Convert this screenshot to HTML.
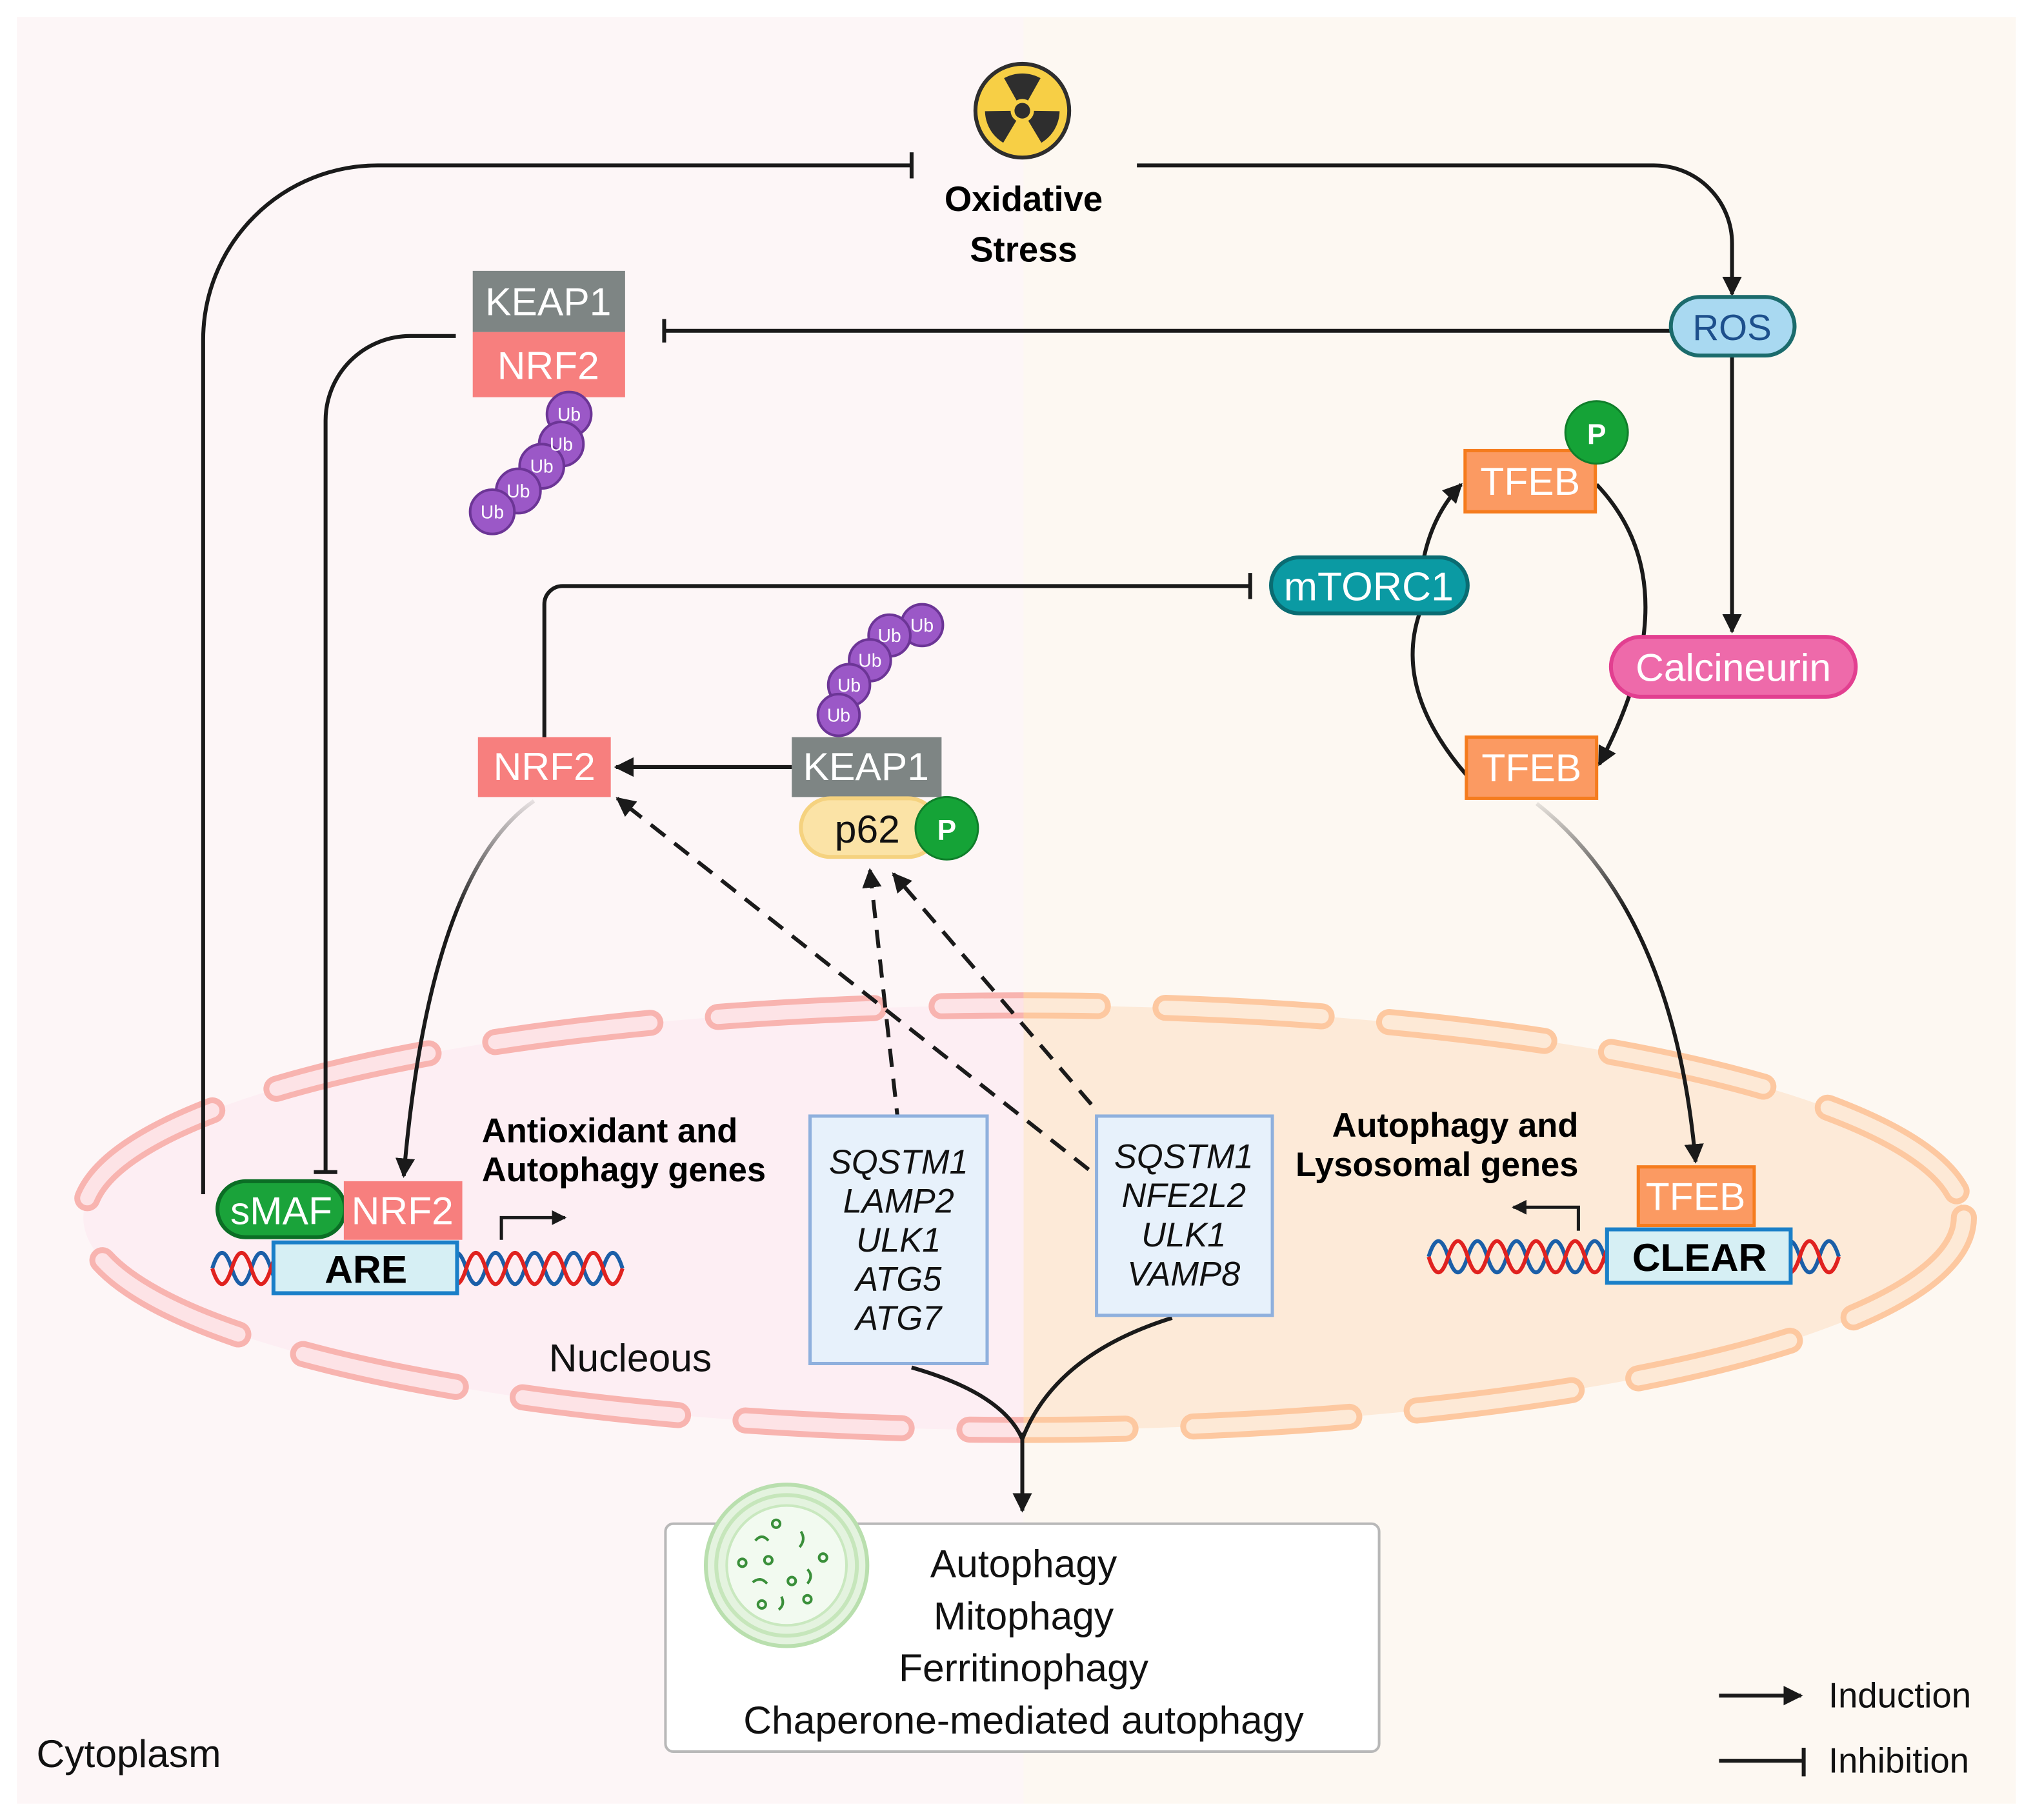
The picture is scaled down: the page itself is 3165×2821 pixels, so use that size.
<!DOCTYPE html>
<html><head><meta charset="utf-8"><style>
html,body{margin:0;padding:0;background:#fff}
svg{display:block}
text{font-family:"Liberation Sans",sans-serif}
</style></head><body>
<svg width="3165" height="2821" viewBox="0 0 1568 1397.5" preserveAspectRatio="none" xmlns="http://www.w3.org/2000/svg">
<defs>
<marker id="ah" viewBox="0 0 10 10" refX="9" refY="5" markerWidth="5" markerHeight="5" orient="auto-start-reverse"><path d="M0,0 L10,5 L0,10 z" fill="#1a1a1a"/></marker>
<marker id="ahs" viewBox="0 0 10 10" refX="9" refY="5" markerWidth="4.5" markerHeight="4.5" orient="auto"><path d="M0,0 L10,5 L0,10 z" fill="#1a1a1a"/></marker>
<clipPath id="cl"><rect x="0" y="0" width="786" height="1400"/></clipPath>
<clipPath id="cr"><rect x="786" y="0" width="800" height="1400"/></clipPath>
<linearGradient id="g1" x1="0" y1="0" x2="0" y2="1"><stop offset="0" stop-color="#1a1a1a" stop-opacity="0.1"/><stop offset="0.3" stop-color="#1a1a1a"/></linearGradient>
</defs>
<rect x="0" y="0" width="1570" height="1400" fill="#fff"/>
<rect x="13" y="13" width="773" height="1372" fill="#fdf6f7"/>
<rect x="786" y="13" width="762" height="1372" fill="#fdf8f2"/>
<g clip-path="url(#cl)">
<ellipse cx="786" cy="935" rx="722" ry="163" fill="#fdeef3"/>
<ellipse cx="786" cy="935" rx="722" ry="163" fill="none" stroke="#f8b4b0" stroke-width="20" stroke-dasharray="120 52" stroke-linecap="round"/>
<ellipse cx="786" cy="935" rx="722" ry="163" fill="none" stroke="#fde3e6" stroke-width="11" stroke-dasharray="120 52" stroke-linecap="round"/>
</g>
<g clip-path="url(#cr)">
<ellipse cx="786" cy="935" rx="722" ry="163" fill="#fdead8"/>
<ellipse cx="786" cy="935" rx="722" ry="163" fill="none" stroke="#fdc8a0" stroke-width="20" stroke-dasharray="120 52" stroke-linecap="round"/>
<ellipse cx="786" cy="935" rx="722" ry="163" fill="none" stroke="#fde9d6" stroke-width="11" stroke-dasharray="120 52" stroke-linecap="round"/>
</g>
<circle cx="785" cy="85" r="36" fill="#f7cf45" stroke="#2e2e2e" stroke-width="3"/>
<g fill="#2e2e2e" transform="translate(785,85)">
<path d="M0,0 L-14,-25 A29,29 0 0 1 14,-25 Z"/>
<path d="M0,0 L-14,-25 A29,29 0 0 1 14,-25 Z" transform="rotate(120)"/>
<path d="M0,0 L-14,-25 A29,29 0 0 1 14,-25 Z" transform="rotate(240)"/>
<circle r="9" fill="#f7cf45"/><circle r="6"/>
</g>
<text x="786" y="162" font-size="27" font-weight="bold" text-anchor="middle">Oxidative</text>
<text x="786" y="201" font-size="27" font-weight="bold" text-anchor="middle">Stress</text>
<g fill="none" stroke="#1a1a1a" stroke-width="3">
<path d="M700,127 H290 A134,134 0 0 0 156,261 V917"/>
<path d="M700,117 V137"/>
<path d="M873,127 H1270 A60,60 0 0 1 1330,187 V226" marker-end="url(#ah)"/>
<path d="M1283,254 H510"/><path d="M510,245 V263"/>
<path d="M350,258 H315 A65,65 0 0 0 250,323 V900"/><path d="M241,900 H259"/>
<path d="M1330,273 V485" marker-end="url(#ah)"/>
<path d="M418,566 V464 A14,14 0 0 1 432,450 H960"/><path d="M960,440 V460"/>
<path d="M1093,430 Q1100,395 1122,372" marker-end="url(#ah)"/>
<path d="M1226,372 Q1300,450 1228,587" marker-end="url(#ah)"/>
<path d="M1126,595 Q1070,530 1090,471"/>
<path d="M608,589 H473" marker-end="url(#ah)"/>
<path d="M410,615 Q330,670 310,903" stroke="url(#g1)" marker-end="url(#ah)"/>
<path d="M1180,617 Q1285,700 1302,892" stroke="url(#g1)" marker-end="url(#ah)"/>
<path d="M385,952 V935 H434" stroke-width="2.5" marker-end="url(#ahs)"/>
<path d="M1212,945 V927 H1162" stroke-width="2.5" marker-end="url(#ahs)"/>
<path d="M700,1050 Q770,1070 785,1105" /><path d="M900,1012 Q810,1040 785,1105"/>
<path d="M785,1100 V1160" marker-end="url(#ah)"/>
<path d="M1320,1302 H1383" marker-end="url(#ah)"/>
<path d="M1320,1352 H1385"/><path d="M1385,1342 V1364"/>
</g>
<g fill="none" stroke="#1a1a1a" stroke-width="3" stroke-dasharray="14 9">
<path d="M836,898 L474,613" marker-end="url(#ah)"/>
<path d="M690,865 L668,668" marker-end="url(#ah)"/>
<path d="M838,848 L686,671" marker-end="url(#ah)"/>
</g>
<rect x="363" y="208" width="117" height="47" fill="#7e8584"/>
<text x="421" y="242" font-size="30" fill="#fff" text-anchor="middle">KEAP1</text>
<rect x="363" y="255" width="117" height="50" fill="#f77f7e"/>
<text x="421" y="291" font-size="30" fill="#fff" text-anchor="middle">NRF2</text>
<g fill="#9b58c7" stroke="#6c3596" stroke-width="2">
<circle cx="437" cy="318" r="17"/><circle cx="431" cy="341" r="17"/><circle cx="416" cy="358" r="17"/><circle cx="398" cy="377" r="17"/><circle cx="378" cy="393" r="17"/>
<circle cx="708" cy="480" r="16"/><circle cx="683" cy="488" r="16"/><circle cx="668" cy="507" r="16"/><circle cx="652" cy="526" r="16"/><circle cx="644" cy="549" r="16"/>
</g>
<g fill="#fff" font-size="14" text-anchor="middle">
<text x="437" y="323">Ub</text><text x="431" y="346">Ub</text><text x="416" y="363">Ub</text><text x="398" y="382">Ub</text><text x="378" y="398">Ub</text>
<text x="708" y="485">Ub</text><text x="683" y="493">Ub</text><text x="668" y="512">Ub</text><text x="652" y="531">Ub</text><text x="644" y="554">Ub</text>
</g>
<rect x="1283" y="228" width="95" height="45" rx="22.5" fill="#a9d9f1" stroke="#1b6b6c" stroke-width="3"/>
<text x="1330" y="261" font-size="28" fill="#1d4f8c" text-anchor="middle">ROS</text>
<rect x="1237" y="489" width="188" height="46" rx="23" fill="#ee6aaa" stroke="#e23f90" stroke-width="3"/>
<text x="1331" y="523" font-size="30" fill="#fff" text-anchor="middle">Calcineurin</text>
<rect x="1125" y="346" width="100" height="47" fill="#fb9a62" stroke="#f57c1e" stroke-width="2.5"/>
<text x="1175" y="380" font-size="30" fill="#fff" text-anchor="middle">TFEB</text>
<circle cx="1226" cy="332" r="24" fill="#15a337" stroke="#0f7e2a" stroke-width="1.5"/>
<text x="1226" y="341" font-size="22" font-weight="bold" fill="#fff" text-anchor="middle">P</text>
<rect x="1126" y="566" width="100" height="47" fill="#fb9a62" stroke="#f57c1e" stroke-width="2.5"/>
<text x="1176" y="600" font-size="30" fill="#fff" text-anchor="middle">TFEB</text>
<rect x="976" y="428" width="151" height="43" rx="21.5" fill="#0b9aa3" stroke="#0a6c72" stroke-width="3"/>
<text x="1051" y="461" font-size="31" fill="#fff" text-anchor="middle">mTORC1</text>
<rect x="367" y="566" width="102" height="46" fill="#f77f7e"/>
<text x="418" y="599" font-size="30" fill="#fff" text-anchor="middle">NRF2</text>
<rect x="608" y="566" width="115" height="46" fill="#7e8584"/>
<text x="665" y="599" font-size="30" fill="#fff" text-anchor="middle">KEAP1</text>
<rect x="615" y="613" width="105" height="45" rx="22.5" fill="#fbe3a6" stroke="#f5d27f" stroke-width="3"/>
<text x="666" y="647" font-size="30" fill="#111" text-anchor="middle">p62</text>
<circle cx="727" cy="636" r="24" fill="#15a337" stroke="#0f7e2a" stroke-width="1.5"/>
<text x="727" y="645" font-size="22" font-weight="bold" fill="#fff" text-anchor="middle">P</text>
<path d="M163,974 q7.5,-24 15,0 t15,0 t15,0 t15,0 t15,0 t15,0 t15,0 t15,0 t15,0 t15,0 t15,0 t15,0 t15,0 t15,0 t15,0 t15,0 t15,0 t15,0 t15,0 t15,0 t15,0" fill="none" stroke="#1b5fa8" stroke-width="3"/>
<path d="M163,974 q7.5,24 15,0 t15,0 t15,0 t15,0 t15,0 t15,0 t15,0 t15,0 t15,0 t15,0 t15,0 t15,0 t15,0 t15,0 t15,0 t15,0 t15,0 t15,0 t15,0 t15,0 t15,0" fill="none" stroke="#e0221f" stroke-width="3"/>
<rect x="167" y="907" width="98" height="43" rx="21.5" fill="#1aa33a" stroke="#0b6e25" stroke-width="3"/>
<text x="216" y="940" font-size="30" fill="#fff" text-anchor="middle">sMAF</text>
<rect x="264" y="907" width="91" height="45" fill="#f77f7e"/>
<text x="309" y="940" font-size="30" fill="#fff" text-anchor="middle">NRF2</text>
<rect x="210" y="954" width="141" height="39" fill="#d6eff4" stroke="#1a7fc8" stroke-width="3"/>
<text x="281" y="985" font-size="30" font-weight="bold" fill="#000" text-anchor="middle">ARE</text>
<text x="370" y="877" font-size="26" font-weight="bold">Antioxidant and</text>
<text x="370" y="907" font-size="26" font-weight="bold">Autophagy genes</text>
<rect x="622" y="857" width="136" height="190" fill="#e7f1fb" stroke="#8fb0dd" stroke-width="2.5"/>
<g font-size="26" font-style="italic" text-anchor="middle" fill="#111">
<text x="690" y="901">SQSTM1</text><text x="690" y="931">LAMP2</text><text x="690" y="961">ULK1</text><text x="690" y="991">ATG5</text><text x="690" y="1021">ATG7</text>
</g>
<rect x="842" y="857" width="135" height="153" fill="#e7f1fb" stroke="#8fb0dd" stroke-width="2.5"/>
<g font-size="26" font-style="italic" text-anchor="middle" fill="#111">
<text x="909" y="897">SQSTM1</text><text x="909" y="927">NFE2L2</text><text x="909" y="957">ULK1</text><text x="909" y="987">VAMP8</text>
</g>
<text x="1212" y="873" font-size="26" font-weight="bold" text-anchor="end">Autophagy and</text>
<text x="1212" y="903" font-size="26" font-weight="bold" text-anchor="end">Lysosomal genes</text>
<path d="M1097,965 q7.5,-24 15,0 t15,0 t15,0 t15,0 t15,0 t15,0 t15,0 t15,0 t15,0 t15,0 t15,0 t15,0 t15,0 t15,0 t15,0 t15,0 t15,0 t15,0 t15,0 t15,0 t15,0" fill="none" stroke="#1b5fa8" stroke-width="3"/>
<path d="M1097,965 q7.5,24 15,0 t15,0 t15,0 t15,0 t15,0 t15,0 t15,0 t15,0 t15,0 t15,0 t15,0 t15,0 t15,0 t15,0 t15,0 t15,0 t15,0 t15,0 t15,0 t15,0 t15,0" fill="none" stroke="#e0221f" stroke-width="3"/>
<rect x="1258" y="896" width="89" height="45" fill="#fb9a62" stroke="#f57c1e" stroke-width="2.5"/>
<text x="1302" y="929" font-size="30" fill="#fff" text-anchor="middle">TFEB</text>
<rect x="1234" y="944" width="141" height="41" fill="#d6eff4" stroke="#1a7fc8" stroke-width="3"/>
<text x="1305" y="976" font-size="30" font-weight="bold" fill="#000" text-anchor="middle">CLEAR</text>
<text x="484" y="1053" font-size="30" text-anchor="middle" fill="#111">Nucleous</text>
<rect x="511" y="1170" width="548" height="175" rx="6" fill="#fff" stroke="#b8b8b8" stroke-width="2"/>
<circle cx="604" cy="1202" r="62" fill="#e4f3df" stroke="#b9dfae" stroke-width="3"/>
<circle cx="604" cy="1202" r="54" fill="none" stroke="#c6e6bb" stroke-width="3"/>
<circle cx="604" cy="1202" r="46" fill="#f2faf0" stroke="#c9e8bf" stroke-width="2"/>
<g fill="none" stroke="#3a8f3a" stroke-width="2">
<path d="M580,1183 q5,-6 10,0"/><path d="M615,1176 q4,6 -1,12"/><path d="M578,1215 q6,-5 11,1"/><path d="M620,1205 q5,5 0,11"/><path d="M600,1226 q3,6 -2,10"/>
<circle cx="570" cy="1200" r="3"/><circle cx="590" cy="1198" r="3"/><circle cx="608" cy="1214" r="3"/><circle cx="632" cy="1196" r="3"/><circle cx="596" cy="1170" r="3"/><circle cx="620" cy="1228" r="3"/><circle cx="585" cy="1232" r="3"/>
</g>
<g font-size="30" text-anchor="middle" fill="#111">
<text x="786" y="1211">Autophagy</text><text x="786" y="1251">Mitophagy</text><text x="786" y="1291">Ferritinophagy</text><text x="786" y="1331">Chaperone-mediated autophagy</text>
</g>
<text x="28" y="1357" font-size="30" fill="#111">Cytoplasm</text>
<text x="1404" y="1311" font-size="27" fill="#111">Induction</text>
<text x="1404" y="1361" font-size="27" fill="#111">Inhibition</text>
</svg>
</body></html>
